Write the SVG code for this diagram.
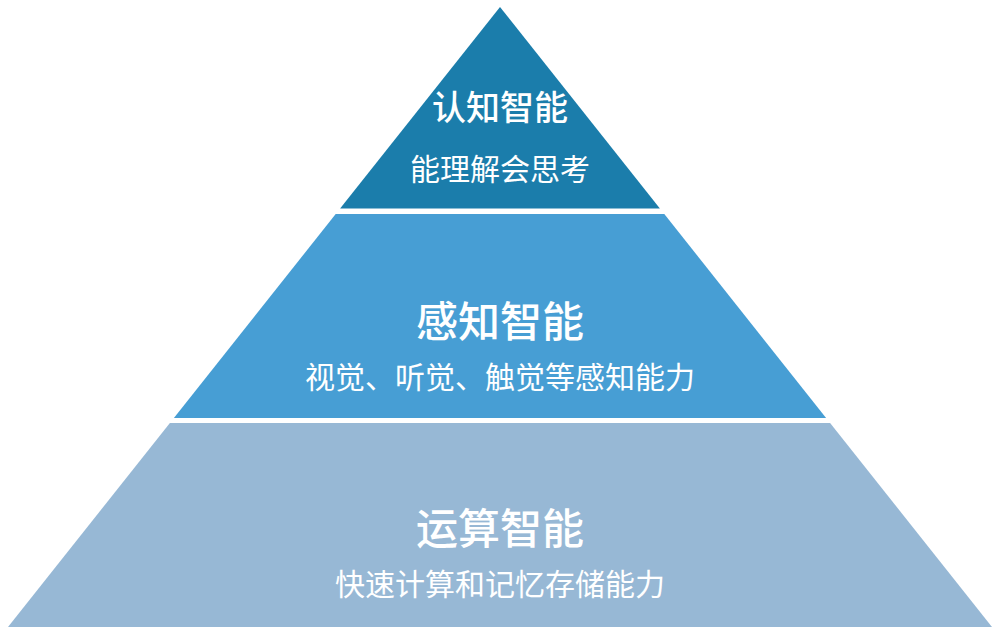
<svg xmlns="http://www.w3.org/2000/svg" width="1000" height="633" viewBox="0 0 1000 633">
<style>
text{font-family:"Noto Sans CJK SC","Noto Sans",sans-serif;fill:#ffffff;text-anchor:middle;dominant-baseline:central}
.t{font-weight:500}
.s{font-weight:400;font-size:30px}
</style>
<rect width="1000" height="633" fill="#ffffff"/>
<g id="tier-top">
<polygon points="500,7 659.9,208.5 340.1,208.5" fill="#1b7dab"/>
<text class="t" x="500" y="105" font-size="34">认知智能</text>
<text class="s" x="500" y="167">能理解会思考</text>
</g>
<g id="tier-middle">
<polygon points="335.7,214 664.3,214 826.1,418 173.9,418" fill="#479ed4"/>
<text class="t" x="500" y="318" font-size="42">感知智能</text>
<text class="s" x="500" y="375">视觉、听觉、触觉等感知能力</text>
</g>
<g id="tier-bottom">
<polygon points="169.9,423 830.1,423 992,627 8,627" fill="#97b8d5"/>
<text class="t" x="500" y="525" font-size="42">运算智能</text>
<text class="s" x="500" y="582">快速计算和记忆存储能力</text>
</g>
<g id="connectors"/>
</svg>
